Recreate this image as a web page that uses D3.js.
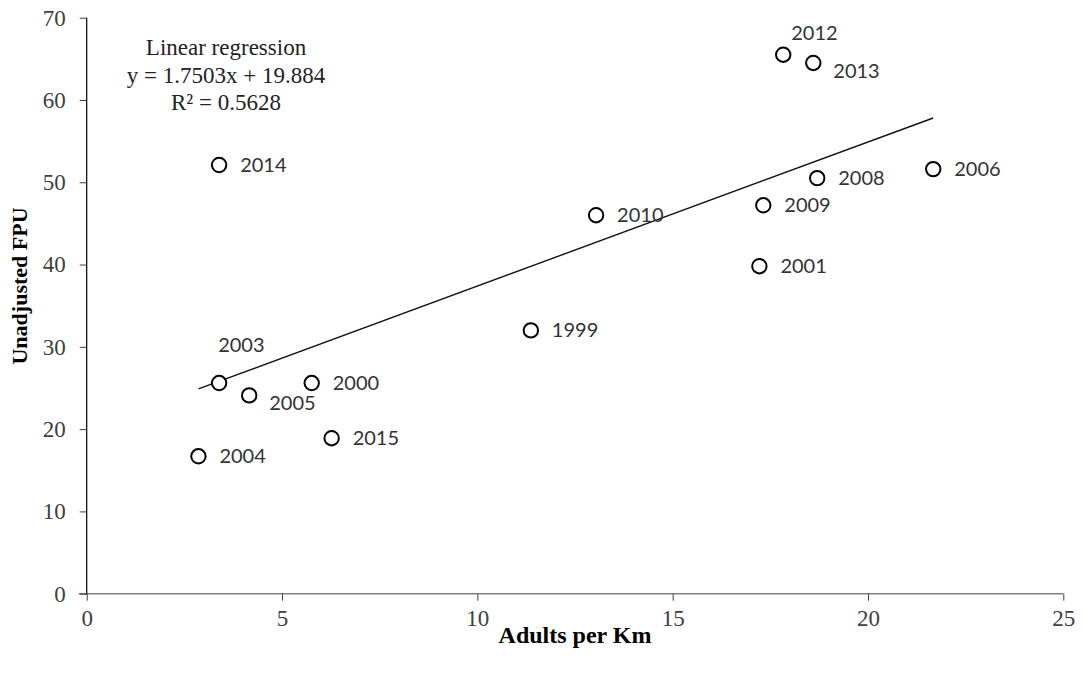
<!DOCTYPE html>
<html>
<head>
<meta charset="utf-8">
<script src="https://cdn.jsdelivr.net/npm/d3@7"></script>
<style>
  body { margin: 0; background: #fff; }
  svg { display: block; }
</style>
</head>
<body>
<script>
// values
var years  = ["1999", "2000", "2001", "2003", "2004", "2005", "2006", "2008", "2009", "2010", "2012", "2013", "2014", "2015"];
var adults = [11.37, 5.76, 17.22, 3.39, 2.86, 4.16, 21.67, 18.70, 17.32, 13.04, 17.83, 18.60, 3.39, 6.27];
var fpu    = [32.0, 25.6, 39.8, 25.6, 16.7, 24.1, 51.6, 50.5, 47.2, 46.0, 65.5, 64.5, 52.1, 18.9];
var xTicks = [0, 5, 10, 15, 20, 25];
var yTicks = [0, 10, 20, 30, 40, 50, 60, 70];
var slope = 1.7503, intercept = 19.884;
var eqText = ["Linear regression", "y = 1.7503x + 19.884", "R\u00b2 = 0.5628"];

// label nudges (px) for the few labels not placed right of the marker
var nudge = {
  "2012": [8, -15],
  "2013": [20, 15],
  "2003": [-1, -31],
  "2005": [20, 15]
};

var W = 1083, H = 673;
var x = d3.scaleLinear().domain([0, 25]).range([86.7, 1063.3]);
var y = d3.scaleLinear().domain([0, 70]).range([593.7, 17.7]);

var svg = d3.select("body").append("svg").attr("width", W).attr("height", H);

var serif = "'Liberation Serif', 'DejaVu Serif', serif";

// x axis
var gx = svg.append("g").attr("transform", "translate(0," + y(0) + ")")
  .call(d3.axisBottom(x).tickValues(xTicks).tickSize(7).tickPadding(9).tickFormat(d3.format("d")));
gx.select(".domain").attr("stroke", "#7f7f7f").attr("stroke-width", 1.5).attr("d", "M" + (x(0) - 8) + ",0H" + x(25));
gx.selectAll(".tick line").attr("stroke", "#404040");
gx.selectAll(".tick text").attr("font-family", serif).attr("font-size", 23).attr("fill", "#404040");

// y axis
var gy = svg.append("g").attr("transform", "translate(" + x(0) + ",0)")
  .call(d3.axisLeft(y).tickValues(yTicks).tickSize(7).tickPadding(14).tickFormat(d3.format("d")));
gy.select(".domain").attr("stroke", "#000").attr("stroke-width", 1.2).attr("d", "M0," + y(70) + "V" + y(0));
gy.selectAll(".tick line").attr("stroke", "#404040");
gy.selectAll(".tick text").attr("font-family", serif).attr("font-size", 23).attr("fill", "#404040");

// axis titles
svg.append("text")
  .attr("transform", "translate(27,286) rotate(-90)")
  .attr("text-anchor", "middle")
  .attr("font-family", serif).attr("font-weight", "bold").attr("font-size", 22)
  .text("Unadjusted FPU");
svg.append("text")
  .attr("x", (x(0) + x(25)) / 2).attr("y", 643)
  .attr("text-anchor", "middle")
  .attr("font-family", serif).attr("font-weight", "bold").attr("font-size", 24)
  .text("Adults per Km");

// regression line over the data range
var xmin = d3.min(adults), xmax = d3.max(adults);
svg.append("line")
  .attr("x1", x(xmin)).attr("y1", y(slope * xmin + intercept))
  .attr("x2", x(xmax)).attr("y2", y(slope * xmax + intercept))
  .attr("stroke", "#111").attr("stroke-width", 1.4);

// equation
svg.append("g").selectAll("text").data(eqText).join("text")
  .attr("x", 226).attr("y", function(d, i) { return 55 + i * 27.5; })
  .attr("text-anchor", "middle")
  .attr("font-family", serif).attr("font-size", 23).attr("fill", "#222")
  .text(function(d) { return d; });

// points
var pts = years.map(function(yr, i) { return {year: yr, x: adults[i], y: fpu[i]}; });

svg.append("g").selectAll("circle").data(pts).join("circle")
  .attr("cx", function(d) { return x(d.x); })
  .attr("cy", function(d) { return y(d.y); })
  .attr("r", 7.2)
  .attr("fill", "#fff").attr("stroke", "#000").attr("stroke-width", 2);

svg.append("g").selectAll("text").data(pts).join("text")
  .attr("x", function(d) { return x(d.x) + (nudge[d.year] ? nudge[d.year][0] : 21); })
  .attr("y", function(d) { return y(d.y) + (nudge[d.year] ? nudge[d.year][1] : 7); })
  .attr("font-family", "Lato, sans-serif").attr("font-size", 20).attr("fill", "#333")
  .text(function(d) { return d.year; });
</script>
</body>
</html>
